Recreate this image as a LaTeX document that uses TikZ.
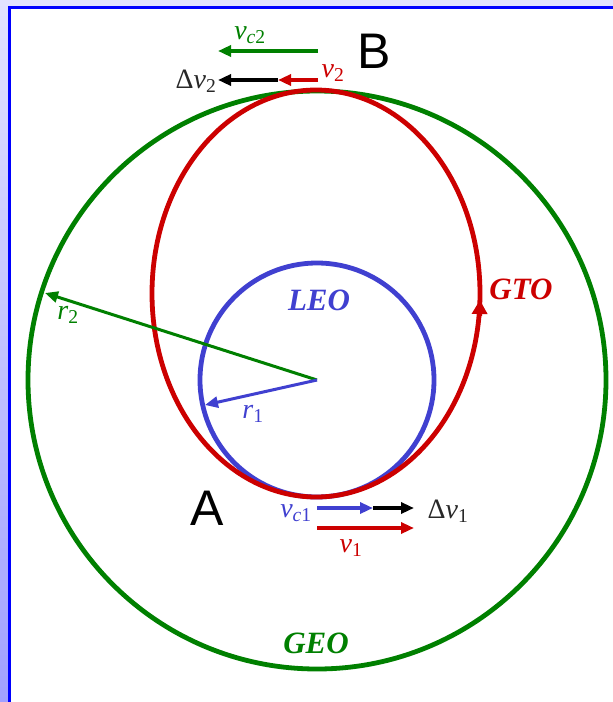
\documentclass[tikz,border=0pt]{standalone}
\usepackage{fontspec}
\setmainfont{Liberation Serif}
\newfontfamily\sansAB{Liberation Sans}
\usetikzlibrary{arrows.meta}
\definecolor{geo}{RGB}{0,128,0}
\definecolor{gto}{RGB}{204,0,0}
\definecolor{leo}{RGB}{64,64,208}
\definecolor{frameblue}{RGB}{0,0,255}
\definecolor{bgtop}{RGB}{226,226,255}
\definecolor{bgbot}{RGB}{160,160,255}
\definecolor{dv}{RGB}{40,40,40}
\begin{document}
\begin{tikzpicture}[x=1pt,y=-1pt,
  orbit/.style={line width=4.8pt},
  vec/.style={line width=3.2pt,-{Triangle[length=13pt,width=11pt]}},
  rvec/.style={line width=3pt,-{Triangle[length=13pt,width=11pt]}},
  lbl/.style={inner sep=0pt,font=\fontsize{28}{32}\selectfont},
  orbname/.style={inner sep=0pt,font=\fontsize{31}{35}\selectfont\bfseries\itshape},
  pointlbl/.style={inner sep=0pt,font=\fontsize{50}{56}\selectfont\sansAB}
]
\useasboundingbox (0,0) rectangle (613,702);
% background and frame (drawn with upward y so the shading runs top to bottom)
\begin{scope}[y=1pt]
\shade[top color=bgtop,bottom color=bgbot] (0,0) rectangle (613,-702);
\end{scope}
\fill[white] (9.5,7.5) rectangle (613,702);
\draw[frameblue,line width=3pt] (9.5,702) -- (9.5,7.5) -- (613,7.5);

% centres
\coordinate (O) at (317,380);
\coordinate (C) at (316,293.5);

% orbits
\draw[geo,orbit] (O) circle[radius=289];
\draw[leo,orbit] (O) circle[radius=117];
\draw[gto,orbit] (C) ellipse[x radius=164, y radius=203.5];

% direction arrow on GTO
\coordinate (G0) at (479.6,316);
\coordinate (G1) at (479.9,300);
\draw[gto,line width=4.8pt,-{Triangle[length=14pt,width=15pt]}] (G0) -- (G1);

% orbit names
\node[orbname,leo] (leoL) at (319,300) {LEO};
\node[orbname,gto] (gtoL) at (521,289) {GTO};
\node[orbname,geo] (geoL) at (316,643) {GEO};

% radii
\coordinate (R2) at (45,293);
\coordinate (R1) at (205,405);
\draw[geo,rvec] (O) -- (R2);
\draw[leo,rvec] (O) -- (R1);
\node[lbl,geo] (r2L) at (68,315) {\textit{r}\textsubscript{2}};
\node[lbl,leo] (r1L) at (253,414) {\textit{r}\textsubscript{1}};

% point labels
\node[pointlbl] (ptA) at (207,508) {A};
\node[pointlbl] (ptB) at (374,51) {B};

% velocity labels
\node[lbl,leo] (vc1L) at (296,513) {\textit{v}\textsubscript{\textit{c}1}};
\node[lbl,dv] (dv1L) at (448,511) {Δ\textit{v}\textsubscript{1}};
\node[lbl,gto] (v1L) at (351,548) {\textit{v}\textsubscript{1}};
\node[lbl,geo] (vc2L) at (250,35) {\textit{v}\textsubscript{\textit{c}2}};
\node[lbl,gto] (v2L) at (333,73) {\textit{v}\textsubscript{2}};
\node[lbl,dv] (dv2L) at (196,81) {Δ\textit{v}\textsubscript{2}};

% velocity vectors at A
\coordinate (A0) at (317,508);
\coordinate (A1) at (373,508);
\coordinate (A2) at (414,508);
\coordinate (A3) at (317,528);
\coordinate (A4) at (414,528);
\draw[leo,vec] (A0) -- (A1);
\draw[black,vec] (A1) -- (A2);
\draw[gto,vec] (A3) -- (A4);

% velocity vectors at B
\coordinate (B0) at (318,51);
\coordinate (B1) at (218,51);
\coordinate (B2) at (318,80);
\coordinate (B3) at (278,80);
\coordinate (B4) at (218,80);
\draw[geo,vec] (B0) -- (B1);
\draw[gto,vec] (B2) -- (B3);
\draw[black,vec] (B3) -- (B4);
\end{tikzpicture}
\end{document}
